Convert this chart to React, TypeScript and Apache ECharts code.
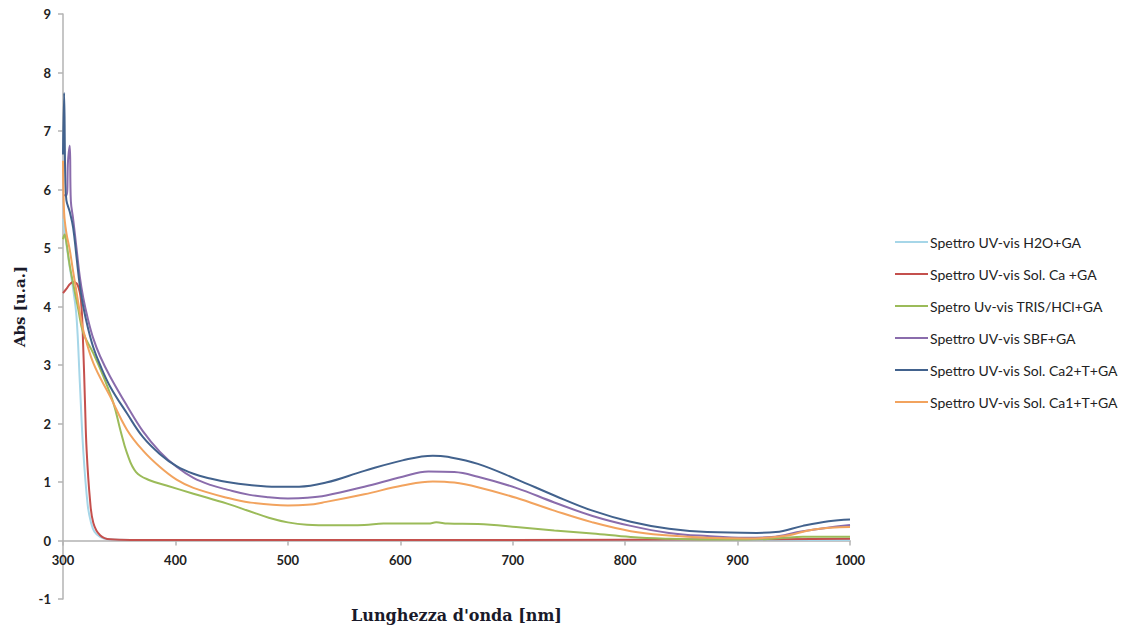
import React, { useEffect, useRef } from "react";
import * as echarts from "echarts";

const seriesNames = [
  "Spettro UV-vis H2O+GA",
  "Spettro UV-vis Sol. Ca +GA",
  "Spetro Uv-vis TRIS/HCl+GA",
  "Spettro UV-vis SBF+GA",
  "Spettro UV-vis Sol. Ca2+T+GA",
  "Spettro UV-vis Sol. Ca1+T+GA",
];
const colors = ["#a6d6e8", "#c4504d", "#9bbb59", "#8a6cac", "#42628d", "#f2a35e"];

const wlH2O = [300, 305, 309, 312, 315, 318, 322, 325, 328, 333, 340, 360, 500, 700, 900, 1000];
const absH2O = [5.5, 4.8, 4.3, 3.83, 2.69, 1.54, 0.6, 0.3, 0.15, 0.06, 0.02, 0.01, 0.01, 0.01, 0.01, 0.01];

const wlCa = [300, 303, 306, 309, 313, 316, 318, 319.5, 321, 324, 327, 333, 342, 360, 500, 700, 900, 1000];
const absCa = [4.23, 4.3, 4.38, 4.42, 4.37, 4.1, 3.3, 2.4, 1.55, 0.7, 0.3, 0.09, 0.02, 0.01, 0.01, 0.01, 0.02, 0.03];

const wlTris = [300, 301.5, 303, 306, 310, 313.6, 318, 327, 336, 345, 351, 357, 365, 377, 392, 416, 446, 466, 483, 500, 517, 540, 568, 585, 610, 625, 632, 642, 669, 703, 737, 771, 805, 839, 873, 907, 930, 941, 958, 1000];
const absTris = [5.15, 5.23, 5.1, 4.7, 4.3, 3.95, 3.55, 3.2, 2.8, 2.34, 1.89, 1.49, 1.17, 1.03, 0.94, 0.8, 0.63, 0.5, 0.39, 0.31, 0.27, 0.26, 0.265, 0.29, 0.29, 0.29, 0.31, 0.29, 0.28, 0.23, 0.17, 0.12, 0.06, 0.03, 0.017, 0.017, 0.03, 0.046, 0.063, 0.063];

const wlSbf = [300, 303, 304.5, 306, 307, 309, 312, 315, 318, 322, 327, 333, 342, 357, 371, 386, 401, 416, 431, 446, 466, 483, 500, 517, 534, 568, 602, 625, 648, 669, 703, 737, 771, 805, 839, 873, 907, 930, 958, 1000];
const absSbf = [5.9, 5.9, 6.5, 6.75, 5.8, 5.5, 5.0, 4.5, 4.15, 3.8, 3.45, 3.15, 2.8, 2.3, 1.87, 1.52, 1.26, 1.07, 0.95, 0.87, 0.78, 0.74, 0.72, 0.73, 0.77, 0.92, 1.09, 1.18, 1.17, 1.09, 0.9, 0.65, 0.42, 0.25, 0.13, 0.075, 0.046, 0.058, 0.16, 0.265];

const wlCa2 = [300, 301, 302, 303, 306, 309, 312, 315, 318, 322, 327, 333, 342, 357, 371, 386, 401, 416, 431, 446, 466, 490, 510, 534, 568, 602, 629, 642, 669, 703, 737, 771, 805, 839, 873, 917, 934, 958, 981, 1000];
const absCa2 = [6.6, 7.65, 6.2, 5.82, 5.62, 5.35, 4.85, 4.35, 4.0, 3.65, 3.3, 3.0, 2.63, 2.17, 1.77, 1.48, 1.27, 1.14, 1.06, 1.0, 0.95, 0.92, 0.92, 0.99, 1.19, 1.37, 1.45, 1.43, 1.31, 1.05, 0.77, 0.51, 0.32, 0.2, 0.144, 0.13, 0.144, 0.25, 0.33, 0.36];

const wlCa1 = [300, 301, 303, 306, 309, 312, 315, 318, 327, 342, 357, 371, 386, 401, 416, 446, 466, 500, 517, 534, 568, 602, 629, 648, 669, 703, 737, 771, 805, 839, 873, 907, 941, 968, 1000];
const absCa1 = [6.49, 5.6, 5.26, 4.97, 4.6, 4.25, 3.9, 3.6, 3.03, 2.46, 1.89, 1.54, 1.26, 1.04, 0.9, 0.73, 0.65, 0.6, 0.61, 0.66, 0.79, 0.94, 1.01, 0.99, 0.91, 0.73, 0.51, 0.31, 0.16, 0.086, 0.046, 0.035, 0.075, 0.19, 0.23];

const allWl = [wlH2O, wlCa, wlTris, wlSbf, wlCa2, wlCa1];
const allAbs = [absH2O, absCa, absTris, absSbf, absCa2, absCa1];

const xAxisName = "Lunghezza d'onda [nm]";
const yAxisName = "Abs [u.a.]";

const GRID_TOP = 14;
const GRID_BOTTOM = 29;
const CHART_H = 628;
const Y_MIN = -1;
const Y_MAX = 9;

export default function App() {
  const ref = useRef<HTMLDivElement>(null);
  useEffect(() => {
    if (!ref.current) return;
    const chart = echarts.init(ref.current, null, { renderer: "svg" });
    const axisColor = "#b3b3b3";
    const unitPx = (CHART_H - GRID_TOP - GRID_BOTTOM) / (Y_MAX - Y_MIN);
    chart.setOption({
      animation: false,
      backgroundColor: "#ffffff",
      grid: { left: 63, right: 276, top: GRID_TOP, bottom: GRID_BOTTOM, containLabel: false, outerBoundsMode: "none" },
      legend: {
        orient: "vertical",
        left: 895,
        top: 235,
        padding: 0,
        itemWidth: 33,
        itemHeight: 2,
        itemGap: 18,
        icon: "rect",
        textStyle: { fontFamily: "Lato", fontSize: 14, color: "#222", padding: [0, 0, 0, -3] },
        data: seriesNames,
      },
      xAxis: {
        type: "value",
        min: 300,
        max: 1000,
        interval: 100,
        offset: -unitPx * (0 - Y_MIN),
        name: xAxisName,
        nameLocation: "middle",
        nameGap: 67,
        nameTextStyle: { fontFamily: "DejaVu Serif", fontWeight: "bold", fontSize: 16, color: "#1a1a2a" },
        axisLine: { onZero: false, lineStyle: { color: axisColor, width: 1.5 } },
        axisTick: { show: true, length: 5, lineStyle: { color: axisColor, width: 1.5 } },
        axisLabel: {
          margin: 13,
          fontFamily: "Lato",
          fontWeight: "bold",
          fontSize: 13,
          color: "#222",
          formatter: (v: number) => String(v),
        },
        splitLine: { show: false },
      },
      yAxis: {
        type: "value",
        min: Y_MIN,
        max: Y_MAX,
        interval: 1,
        name: yAxisName,
        nameLocation: "middle",
        nameGap: 33,
        nameRotate: 90,
        nameTextStyle: { fontFamily: "DejaVu Serif", fontWeight: "bold", fontSize: 15, color: "#1a1a2a" },
        axisLine: { show: true, onZero: false, lineStyle: { color: axisColor, width: 1.5 } },
        axisTick: { show: true, length: 5, lineStyle: { color: axisColor, width: 1.5 } },
        axisLabel: { margin: 12, fontFamily: "Lato", fontWeight: "bold", fontSize: 13, color: "#222" },
        splitLine: { show: false },
      },
      series: seriesNames.map((name, i) => ({
        name,
        type: "line",
        symbol: "none",
        smooth: 0.4,
        color: colors[i],
        lineStyle: { width: 2, color: colors[i] },
        data: allWl[i].map((w, j) => [w, allAbs[i][j]]),
      })),
    });
    return () => chart.dispose();
  }, []);
  return (
    <div
      ref={ref}
      style={{ position: "fixed", left: 0, top: 0, width: 1126, height: 628 }}
    />
  );
}
